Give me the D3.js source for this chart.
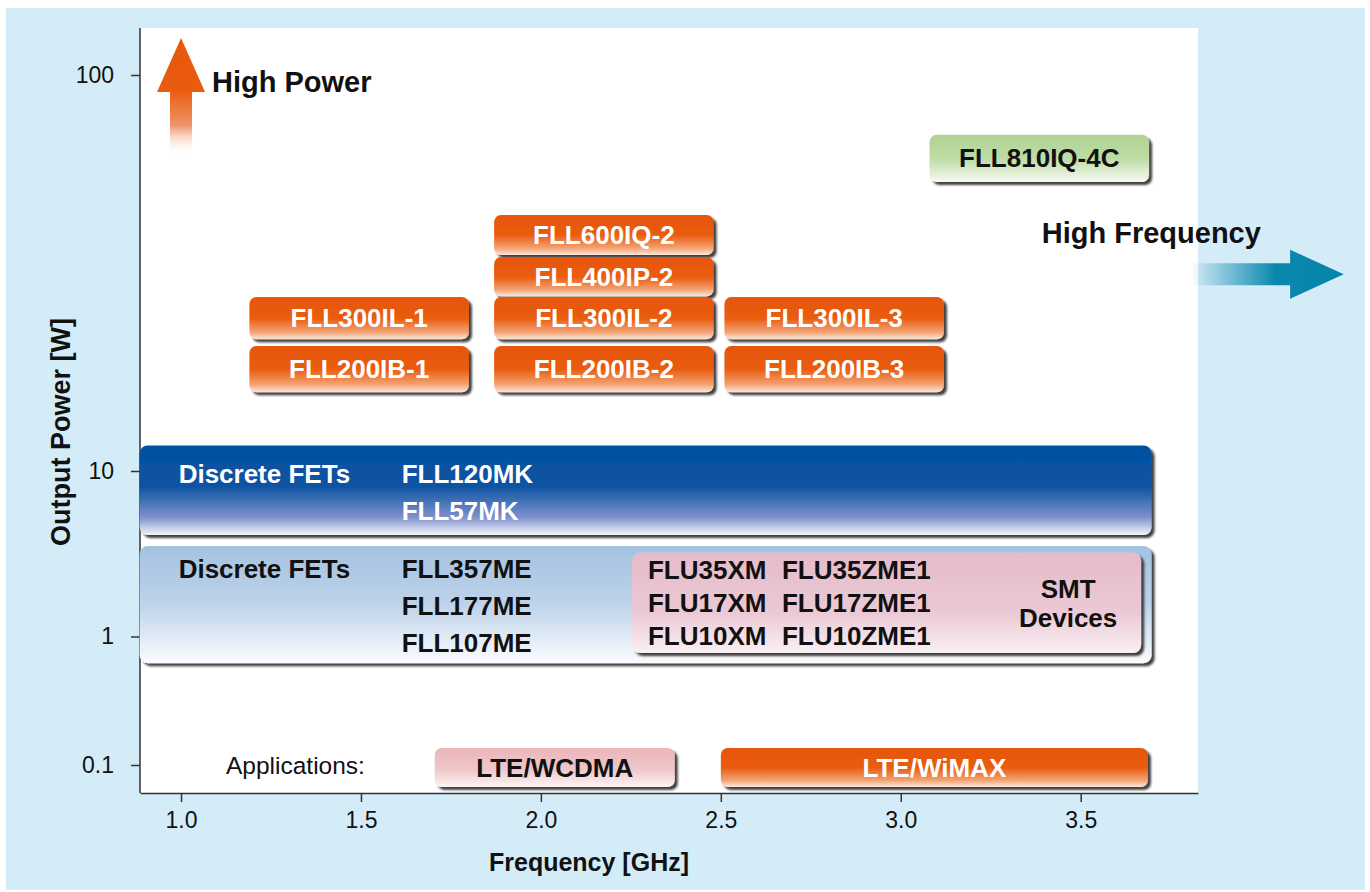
<!DOCTYPE html>
<html>
<head>
<meta charset="utf-8">
<script src="https://cdn.jsdelivr.net/npm/d3@7"></script>
<style>
  body { margin: 0; background: #fff; }
  svg text { font-family: "Liberation Sans", Arial, Helvetica, sans-serif; }
</style>
</head>
<body>
<svg id="chart"></svg>
<script>
// axis ticks
const freqTicks = [1.0, 1.5, 2.0, 2.5, 3.0, 3.5];
const powerTicks = [0.1, 1, 10, 100];

// amplifier modules (GHz / W)
const ampNames  = ['FLL810IQ-4C', 'FLL600IQ-2', 'FLL400IP-2', 'FLL300IL-1', 'FLL300IL-2', 'FLL300IL-3', 'FLL200IB-1', 'FLL200IB-2', 'FLL200IB-3'];
const ampKinds  = ['green', 'orange', 'orange', 'orange', 'orange', 'orange', 'orange', 'orange', 'orange'];
const ampFreqLo = [3.08, 1.87, 1.87, 1.19, 1.87, 2.51, 1.19, 1.87, 2.51];
const ampFreqHi = [3.69, 2.48, 2.48, 1.80, 2.48, 3.12, 1.80, 2.48, 3.12];
const ampPowLo  = [53.7, 35.1, 27.6, 21.5, 21.5, 21.5, 15.8, 15.8, 15.8];
const ampPowHi  = [70.6, 44.3, 34.7, 27.5, 27.5, 27.5, 20.7, 20.7, 20.7];

// discrete FET bands
const bandLabels = ['Discrete FETs', 'Discrete FETs'];
const bandKinds  = ['dark', 'light'];
const bandParts  = [['FLL120MK', 'FLL57MK'], ['FLL357ME', 'FLL177ME', 'FLL107ME']];
const bandFreqLo = [0.885, 0.885];
const bandFreqHi = [3.697, 3.697];
const bandPowLo  = [4.1, 0.62];
const bandPowHi  = [11.6, 3.52];

// SMT devices box
const smtColA = ['FLU35XM', 'FLU17XM', 'FLU10XM'];
const smtColB = ['FLU35ZME1', 'FLU17ZME1', 'FLU10ZME1'];
const smtTitle = ['SMT', 'Devices'];
const smtFreq = [2.253, 3.668];
const smtPow  = [0.744, 3.22];

// applications row
const appNames  = ['LTE/WCDMA', 'LTE/WiMAX'];
const appKinds  = ['pink', 'orange'];
const appFreqLo = [1.705, 2.5];
const appFreqHi = [2.372, 3.687];
const appPow    = [0.0674, 0.1356];

// trend arrows
const powerArrow = { freq: 1.0, from: 62.8, head: 90.6, to: 124 };
const freqArrow  = { power: 31.4, from: 3.808, head: 4.082, to: 4.231 };

const W = 1370, H = 892;
const FONT = 26;
const svg = d3.select('#chart').attr('width', W).attr('height', H);
const defs = svg.append('defs');

const x = d3.scaleLinear().domain([0.886, 3.826]).range([140, 1198]);
const y = d3.scaleLog().domain([0.1, 1, 10, 100]).range([765, 636.5, 471, 75]);

function vGrad(id, stops) {
    const g = defs.append('linearGradient').attr('id', id)
        .attr('x1', 0).attr('y1', 0).attr('x2', 0).attr('y2', 1);
    stops.forEach(s => g.append('stop').attr('offset', s[0]).attr('stop-color', s[1])
        .attr('stop-opacity', s[2] === undefined ? 1 : s[2]));
}
vGrad('g-orange', [[0, '#e65608'], [0.5, '#e95c0f'], [0.82, '#f3a070'], [1, '#fde8da']]);
vGrad('g-green', [[0, '#b0d392'], [0.5, '#bedba5'], [1, '#f6faf1']]);
vGrad('g-pink', [[0, '#ebb6b9'], [0.55, '#efc6c8'], [1, '#fdf5f5']]);
vGrad('g-dark', [[0, '#0450a1'], [0.45, '#0a53a2'], [0.8, '#7e90cc'], [1, '#f4f5fb']]);
vGrad('g-light', [[0, '#a3c2e0'], [0.5, '#bed3ea'], [1, '#fbfcfe']]);
vGrad('g-smt', [[0, '#e5bbca'], [0.6, '#ebc9d5'], [1, '#faf0f4']]);
vGrad('g-uparrow', [[0, '#e8560a'], [0.45, '#e95c10'], [0.75, '#f0956a'], [1, '#ffffff', 0]]);

const hg = defs.append('linearGradient').attr('id', 'g-rarrow')
    .attr('x1', 0).attr('y1', 0).attr('x2', 1).attr('y2', 0);
hg.append('stop').attr('offset', 0).attr('stop-color', '#0a87ad').attr('stop-opacity', 0);
hg.append('stop').attr('offset', 0.55).attr('stop-color', '#0a87ad').attr('stop-opacity', 1);
hg.append('stop').attr('offset', 1).attr('stop-color', '#0585ab');

const shadow = defs.append('filter').attr('id', 'shadow')
    .attr('x', '-5%').attr('y', '-20%').attr('width', '115%').attr('height', '160%');
shadow.append('feDropShadow').attr('dx', 3).attr('dy', 3).attr('stdDeviation', 1.3)
    .attr('flood-color', '#1e1e1e').attr('flood-opacity', 0.85);

// backgrounds
svg.append('rect').attr('x', 6).attr('y', 8).attr('width', 1359).attr('height', 882).attr('fill', '#d4ebf8');
svg.append('rect').attr('x', x.range()[0]).attr('y', 28)
    .attr('width', x.range()[1] - x.range()[0]).attr('height', 765).attr('fill', '#fff');

// axes
const xAxis = svg.append('g').attr('transform', 'translate(0,793)')
    .call(d3.axisBottom(x).tickValues(freqTicks).tickFormat(d3.format('.1f'))
        .tickSize(9).tickSizeOuter(0).tickPadding(10));
const yAxis = svg.append('g').attr('transform', 'translate(140,0)')
    .call(d3.axisLeft(y).tickValues(powerTicks).tickFormat(d => d)
        .tickSize(9).tickPadding(17));
yAxis.select('.domain').remove();
svg.append('line').attr('x1', 140).attr('x2', 140).attr('y1', 28).attr('y2', 793)
    .attr('stroke', '#333').attr('stroke-width', 1.5);
[xAxis, yAxis].forEach(a => {
    a.selectAll('.domain, line').attr('stroke', '#333').attr('stroke-width', 1.5);
    a.selectAll('text').attr('font-size', 23).attr('fill', '#111')
        .style('font-family', '"Liberation Sans", Arial, sans-serif');
});

svg.append('text').attr('x', 589).attr('y', 871).attr('text-anchor', 'middle')
    .attr('font-size', 25).attr('font-weight', 'bold').attr('fill', '#111')
    .text('Frequency [GHz]');
svg.append('text').attr('transform', 'translate(70,432) rotate(-90)').attr('text-anchor', 'middle')
    .attr('font-size', 27).attr('font-weight', 'bold').attr('fill', '#111')
    .text('Output Power [W]');

// FET bands
const bands = svg.selectAll('g.band').data(bandLabels.map((d, i) => i)).enter()
    .append('g').attr('class', 'band');
bands.append('rect')
    .attr('x', i => x(bandFreqLo[i])).attr('y', i => y(bandPowHi[i]))
    .attr('width', i => x(bandFreqHi[i]) - x(bandFreqLo[i]))
    .attr('height', i => y(bandPowLo[i]) - y(bandPowHi[i]))
    .attr('rx', 8).attr('fill', i => 'url(#g-' + bandKinds[i] + ')')
    .attr('filter', 'url(#shadow)');
bands.each(function (i) {
    const g = d3.select(this);
    const top = y(bandPowHi[i]), left = x(bandFreqLo[i]);
    const first = bandKinds[i] === 'dark' ? 38 : 32;
    const col = bandKinds[i] === 'dark' ? '#fff' : '#111';
    g.append('text').attr('x', left + 39).attr('y', top + first)
        .attr('font-size', FONT).attr('font-weight', 'bold').attr('fill', col)
        .text(bandLabels[i]);
    g.selectAll('text.part').data(bandParts[i]).enter().append('text').attr('class', 'part')
        .attr('x', left + 262).attr('y', (d, k) => top + first + k * 37)
        .attr('font-size', FONT).attr('font-weight', 'bold').attr('fill', col)
        .text(d => d);
});

// SMT devices
const smt = svg.append('g');
const sx0 = x(smtFreq[0]), sx1 = x(smtFreq[1]), sy0 = y(smtPow[1]), sy1 = y(smtPow[0]);
smt.append('rect').attr('x', sx0).attr('y', sy0).attr('width', sx1 - sx0).attr('height', sy1 - sy0)
    .attr('rx', 8).attr('fill', 'url(#g-smt)').attr('filter', 'url(#shadow)');
smt.selectAll('text.a').data(smtColA).enter().append('text').attr('class', 'a')
    .attr('x', sx0 + 16).attr('y', (d, k) => sy0 + 27 + k * 33)
    .attr('font-size', FONT).attr('font-weight', 'bold').attr('fill', '#111').text(d => d);
smt.selectAll('text.b').data(smtColB).enter().append('text').attr('class', 'b')
    .attr('x', sx0 + 150).attr('y', (d, k) => sy0 + 27 + k * 33)
    .attr('font-size', FONT).attr('font-weight', 'bold').attr('fill', '#111').text(d => d);
smt.selectAll('text.t').data(smtTitle).enter().append('text').attr('class', 't')
    .attr('x', sx1 - 73).attr('y', (d, k) => sy0 + 46 + k * 29).attr('text-anchor', 'middle')
    .attr('font-size', FONT).attr('font-weight', 'bold').attr('fill', '#111').text(d => d);

// amplifier boxes
const amps = svg.selectAll('g.amp').data(ampNames.map((d, i) => i)).enter()
    .append('g').attr('class', 'amp');
amps.append('rect')
    .attr('x', i => x(ampFreqLo[i])).attr('y', i => y(ampPowHi[i]))
    .attr('width', i => x(ampFreqHi[i]) - x(ampFreqLo[i]))
    .attr('height', i => y(ampPowLo[i]) - y(ampPowHi[i]))
    .attr('rx', 7).attr('fill', i => 'url(#g-' + ampKinds[i] + ')')
    .attr('filter', 'url(#shadow)');
amps.append('text')
    .attr('x', i => (x(ampFreqLo[i]) + x(ampFreqHi[i])) / 2)
    .attr('y', i => (y(ampPowLo[i]) + y(ampPowHi[i])) / 2 + 9)
    .attr('text-anchor', 'middle').attr('font-size', FONT).attr('font-weight', 'bold')
    .attr('fill', i => ampKinds[i] === 'orange' ? '#fff' : '#111')
    .text(i => ampNames[i]);

// applications
svg.append('text').attr('x', 226).attr('y', y(0.1) + 9)
    .attr('font-size', 24.5).attr('fill', '#111').text('Applications:');
const apps = svg.selectAll('g.app').data(appNames.map((d, i) => i)).enter()
    .append('g').attr('class', 'app');
apps.append('rect')
    .attr('x', i => x(appFreqLo[i])).attr('y', y(appPow[1]))
    .attr('width', i => x(appFreqHi[i]) - x(appFreqLo[i]))
    .attr('height', y(appPow[0]) - y(appPow[1]))
    .attr('rx', 7).attr('fill', i => 'url(#g-' + appKinds[i] + ')')
    .attr('filter', 'url(#shadow)');
apps.append('text')
    .attr('x', i => (x(appFreqLo[i]) + x(appFreqHi[i])) / 2)
    .attr('y', (y(appPow[0]) + y(appPow[1])) / 2 + 9)
    .attr('text-anchor', 'middle').attr('font-size', FONT).attr('font-weight', 'bold')
    .attr('fill', i => appKinds[i] === 'orange' ? '#fff' : '#111')
    .text(i => appNames[i]);

// High Power arrow
const ax = x(powerArrow.freq), aTop = y(powerArrow.to), aHead = y(powerArrow.head), aBot = y(powerArrow.from);
svg.append('path')
    .attr('d', `M${ax},${aTop}L${ax + 24},${aHead}L${ax + 11},${aHead}L${ax + 11},${aBot}` +
        `L${ax - 11},${aBot}L${ax - 11},${aHead}L${ax - 24},${aHead}Z`)
    .attr('fill', 'url(#g-uparrow)');
svg.append('text').attr('x', ax + 31).attr('y', aHead).attr('font-size', 29)
    .attr('font-weight', 'bold').attr('fill', '#111').text('High Power');

// High Frequency arrow
const fy = y(freqArrow.power), fL = x(freqArrow.from), fH = x(freqArrow.head), fR = x(freqArrow.to);
svg.append('path')
    .attr('d', `M${fR},${fy}L${fH},${fy - 24.5}L${fH},${fy - 11}L${fL},${fy - 11}` +
        `L${fL},${fy + 11}L${fH},${fy + 11}L${fH},${fy + 24.5}Z`)
    .attr('fill', 'url(#g-rarrow)');
svg.append('text').attr('x', fR - 302).attr('y', fy - 31).attr('font-size', 29)
    .attr('font-weight', 'bold').attr('fill', '#111').text('High Frequency');
</script>
</body>
</html>
